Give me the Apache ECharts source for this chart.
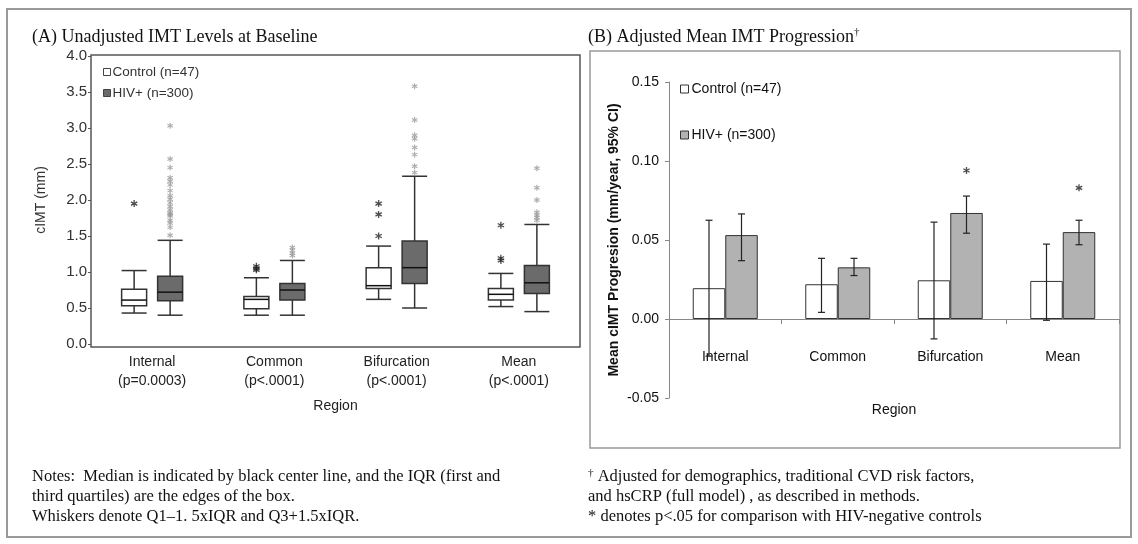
<!DOCTYPE html>
<html>
<head>
<meta charset="utf-8">
<script src="https://cdn.jsdelivr.net/npm/echarts@6/dist/echarts.min.js"></script>
<style>
  html, body { margin: 0; padding: 0; background: #fff; }
  #chart { width: 1138px; height: 544px; }
</style>
</head>
<body>
<div id="chart"></div>
<script>
// panel A: baseline cIMT box plots [min, Q1, median, Q3, max]
const regions = ['Internal', 'Common', 'Bifurcation', 'Mean']
const pValues = ['(p=0.0003)', '(p<.0001)', '(p<.0001)', '(p<.0001)']
const controlBox = [
  [0.43, 0.53, 0.61, 0.76, 1.02],
  [0.40, 0.49, 0.62, 0.66, 0.92],
  [0.62, 0.77, 0.81, 1.06, 1.36],
  [0.52, 0.61, 0.69, 0.77, 0.98]
]
const hivBox = [
  [0.40, 0.60, 0.72, 0.94, 1.44],
  [0.40, 0.61, 0.75, 0.84, 1.16],
  [0.50, 0.84, 1.06, 1.43, 2.33],
  [0.45, 0.70, 0.85, 1.09, 1.66]
]
// outliers as [region index, value]
const controlOutliers = [
  [0, 1.95], [1, 1.08], [1, 1.05], [1, 1.03],
  [2, 1.95], [2, 1.80], [2, 1.50], [3, 1.65], [3, 1.19], [3, 1.16]
]
const hivOutliers = [
  [0, 3.03], [0, 2.57], [0, 2.45], [0, 2.31], [0, 2.26], [0, 2.21], [0, 2.13], [0, 2.06],
  [0, 2.01], [0, 1.96], [0, 1.91], [0, 1.86], [0, 1.82], [0, 1.80], [0, 1.78], [0, 1.72],
  [0, 1.68], [0, 1.62], [0, 1.51],
  [1, 1.34], [1, 1.30], [1, 1.26], [1, 1.23],
  [2, 3.58], [2, 3.11], [2, 2.90], [2, 2.85], [2, 2.73], [2, 2.63], [2, 2.47], [2, 2.38],
  [3, 2.44], [3, 2.17], [3, 2.00], [3, 1.83], [3, 1.79], [3, 1.76], [3, 1.72]
]
const yTicksA = [0, 0.5, 1.0, 1.5, 2.0, 2.5, 3.0, 3.5, 4.0]

// panel B: adjusted mean progression with 95% CI
const controlMean = [0.0195, 0.0220, 0.0245, 0.0241]
const controlLow = [-0.0235, 0.0042, -0.0126, -0.0008]
const controlHigh = [0.0625, 0.0384, 0.0613, 0.0474]
const hivMean = [0.0531, 0.0327, 0.0671, 0.0550]
const hivLow = [0.0369, 0.0275, 0.0543, 0.0470]
const hivHigh = [0.0665, 0.0384, 0.0778, 0.0625]
const sigStars = [null, null, 0.094, 0.083]

const CONTROL = 'Control (n=47)'
const HIV = 'HIV+ (n=300)'
const ASTERISK = 'path://M-0.9,5L0.9,5L0.9,-5L-0.9,-5Z' +
  'M3.88,3.28L4.78,1.72L-3.88,-3.28L-4.78,-1.72Z' +
  'M-4.78,1.72L-3.88,3.28L4.78,-1.72L3.88,-3.28Z'
const SANS = 'Arial, "Liberation Sans", sans-serif'
const SERIF = '"Liberation Serif", "Times New Roman", serif'

function boxRenderer(offset, fill) {
  return function (params, api) {
    const cat = api.value(0)
    const x = api.coord([cat, 0])[0] + offset
    const y = [1, 2, 3, 4, 5].map(d => api.coord([cat, api.value(d)])[1])
    const hw = 12.5
    const line = { stroke: '#333', lineWidth: 1.5 }
    return {
      type: 'group',
      children: [
        { type: 'line', shape: { x1: x, y1: y[0], x2: x, y2: y[1] }, style: line },
        { type: 'line', shape: { x1: x, y1: y[3], x2: x, y2: y[4] }, style: line },
        { type: 'line', shape: { x1: x - hw, y1: y[0], x2: x + hw, y2: y[0] }, style: line },
        { type: 'line', shape: { x1: x - hw, y1: y[4], x2: x + hw, y2: y[4] }, style: line },
        { type: 'rect', shape: { x: x - hw, y: y[3], width: hw * 2, height: y[1] - y[3] }, style: { fill: fill, stroke: '#333', lineWidth: 1.5 } },
        { type: 'line', shape: { x1: x - hw, y1: y[2], x2: x + hw, y2: y[2] }, style: { stroke: '#111', lineWidth: 1.5 } }
      ]
    }
  }
}

function errRenderer(offset) {
  return function (params, api) {
    const cat = api.value(0)
    const x = api.coord([cat, 0])[0] + offset
    const lo = api.coord([cat, api.value(1)])[1]
    const hi = api.coord([cat, api.value(2)])[1]
    const st = { stroke: '#222', lineWidth: 1.2 }
    return {
      type: 'group',
      children: [
        { type: 'line', shape: { x1: x, y1: lo, x2: x, y2: hi }, style: st },
        { type: 'line', shape: { x1: x - 3.5, y1: lo, x2: x + 3.5, y2: lo }, style: st },
        { type: 'line', shape: { x1: x - 3.5, y1: hi, x2: x + 3.5, y2: hi }, style: st }
      ]
    }
  }
}

function text(x, y, str, font, extra) {
  return {
    type: 'text', x: x, y: y, silent: true,
    style: Object.assign({ text: str, font: font, fill: '#111', verticalAlign: 'middle' }, extra || {})
  }
}

const TITLE_FONT = '18px ' + SERIF
const NOTE_FONT = '16.5px ' + SERIF
const SUP_FONT = '11px ' + SERIF

const chart = echarts.init(document.getElementById('chart'))

chart.setOption({
  animation: false,
  textStyle: { fontFamily: SANS },
  grid: [
    { left: 91, top: 56, width: 489, height: 288 },
    { left: 669, top: 82, width: 450, height: 316 }
  ],
  legend: [
    {
      orient: 'vertical', left: 103, top: 65, padding: 0, itemGap: 7,
      itemWidth: 7, itemHeight: 7, selectedMode: false,
      textStyle: { fontSize: 13.5, color: '#333', padding: [0, 0, 0, -3] },
      data: [
        { name: CONTROL, icon: 'rect', itemStyle: { color: '#fff', borderColor: '#444', borderWidth: 1 } },
        { name: HIV, icon: 'rect', itemStyle: { color: '#6b6b6b', borderColor: '#444', borderWidth: 1 } }
      ]
    },
    {
      orient: 'vertical', left: 680, top: 82, padding: 0, itemGap: 32,
      itemWidth: 8, itemHeight: 8, selectedMode: false,
      textStyle: { fontSize: 14, color: '#111', padding: [0, 0, 0, -2] },
      data: [
        { name: CONTROL, icon: 'rect', itemStyle: { color: '#fff', borderColor: '#333', borderWidth: 1 } },
        { name: HIV, icon: 'rect', itemStyle: { color: '#b2b2b2', borderColor: '#333', borderWidth: 1 } }
      ]
    }
  ],
  xAxis: [
    {
      type: 'category', gridIndex: 0,
      data: regions.map((r, i) => r + '\n' + pValues[i]),
      axisLine: { show: false }, axisTick: { show: false },
      axisLabel: { margin: 9, fontSize: 14, lineHeight: 19, color: '#222' },
      name: 'Region', nameLocation: 'middle', nameGap: 55,
      nameTextStyle: { fontSize: 14, color: '#222' }
    },
    {
      type: 'category', gridIndex: 1, data: regions,
      axisLine: { lineStyle: { color: '#888', width: 1 } },
      axisTick: { show: true, length: 5, lineStyle: { color: '#888' } },
      axisLabel: { margin: -48, fontSize: 14, color: '#111' },
      name: 'Region', nameLocation: 'middle', nameGap: 5,
      nameTextStyle: { fontSize: 14, color: '#111' }
    }
  ],
  yAxis: [
    {
      type: 'value', gridIndex: 0, min: yTicksA[0], max: yTicksA[yTicksA.length - 1], interval: 0.5,
      axisLine: { show: false },
      axisTick: { show: true, length: 3, lineStyle: { color: '#555' } },
      splitLine: { show: false },
      axisLabel: { fontSize: 15, color: '#333', margin: 4, formatter: v => v.toFixed(1) },
      name: 'cIMT (mm)', nameLocation: 'middle', nameGap: 43,
      nameTextStyle: { fontSize: 14, color: '#333' }
    },
    {
      type: 'value', gridIndex: 1, min: -0.05, max: 0.15, interval: 0.05,
      axisLine: { show: true, lineStyle: { color: '#888', width: 1 } },
      axisTick: { show: true, length: 4, lineStyle: { color: '#888' } },
      splitLine: { show: false },
      axisLabel: { fontSize: 14, color: '#111', margin: 10, formatter: v => v.toFixed(2) },
      name: 'Mean cIMT Progresion (mm/year, 95% CI)', nameLocation: 'middle', nameGap: 48,
      nameTextStyle: { fontSize: 14, fontWeight: 'bold', color: '#111' }
    }
  ],
  series: [
    {
      name: CONTROL, type: 'custom', xAxisIndex: 0, yAxisIndex: 0,
      renderItem: boxRenderer(-18, '#fff'),
      encode: { x: 0, y: [1, 2, 3, 4, 5] },
      data: controlBox.map((b, i) => [i].concat(b))
    },
    {
      name: HIV, type: 'custom', xAxisIndex: 0, yAxisIndex: 0,
      renderItem: boxRenderer(18, '#6b6b6b'),
      encode: { x: 0, y: [1, 2, 3, 4, 5] },
      data: hivBox.map((b, i) => [i].concat(b))
    },
    {
      name: CONTROL, type: 'scatter', xAxisIndex: 0, yAxisIndex: 0,
      symbol: ASTERISK, symbolSize: 7, symbolOffset: [-18, 0],
      itemStyle: { color: '#222' }, data: controlOutliers
    },
    {
      name: HIV, type: 'scatter', xAxisIndex: 0, yAxisIndex: 0,
      symbol: ASTERISK, symbolSize: 6, symbolOffset: [18, 0],
      itemStyle: { color: '#999' }, data: hivOutliers
    },
    {
      name: CONTROL, type: 'bar', xAxisIndex: 1, yAxisIndex: 1,
      barWidth: 32.5, barGap: '0%',
      itemStyle: { color: '#fff', borderColor: '#333', borderWidth: 1 },
      data: controlMean
    },
    {
      name: HIV, type: 'bar', xAxisIndex: 1, yAxisIndex: 1,
      barWidth: 32.5, barGap: '0%',
      itemStyle: { color: '#b2b2b2', borderColor: '#333', borderWidth: 1 },
      data: hivMean
    },
    {
      name: CONTROL, type: 'custom', xAxisIndex: 1, yAxisIndex: 1, z: 5,
      renderItem: errRenderer(-16.25),
      encode: { x: 0, y: [1, 2] },
      data: controlLow.map((v, i) => [i, v, controlHigh[i]])
    },
    {
      name: HIV, type: 'custom', xAxisIndex: 1, yAxisIndex: 1, z: 5,
      renderItem: errRenderer(16.25),
      encode: { x: 0, y: [1, 2] },
      data: hivLow.map((v, i) => [i, v, hivHigh[i]])
    },
    {
      name: HIV, type: 'scatter', xAxisIndex: 1, yAxisIndex: 1,
      symbol: ASTERISK, symbolSize: 7, symbolOffset: [16.25, 0],
      itemStyle: { color: '#222' },
      data: sigStars.map((v, i) => v == null ? null : [i, v]).filter(d => d)
    }
  ],
  graphic: [
    { type: 'rect', silent: true, shape: { x: 7, y: 9, width: 1124, height: 528 }, style: { fill: 'none', stroke: '#9a9a9a', lineWidth: 2 } },
    { type: 'rect', silent: true, shape: { x: 91, y: 55, width: 489, height: 292 }, style: { fill: 'none', stroke: '#555', lineWidth: 1.5 } },
    { type: 'rect', silent: true, shape: { x: 590, y: 51, width: 530, height: 397 }, style: { fill: 'none', stroke: '#999', lineWidth: 1.5 } },
    text(32, 37, '(A) Unadjusted IMT Levels at Baseline', TITLE_FONT),
    text(588, 37, '{t|(B) Adjusted Mean IMT Progression}{s|†}', TITLE_FONT, {
      rich: {
        t: { font: TITLE_FONT, fill: '#111' },
        s: { font: SUP_FONT, fill: '#111', padding: [0, 0, 9, 0] }
      }
    }),
    text(32, 477, 'Notes:  Median is indicated by black center line, and the IQR (first and', NOTE_FONT),
    text(32, 497, 'third quartiles) are the edges of the box.', NOTE_FONT),
    text(32, 517, 'Whiskers denote Q1\u20131. 5xIQR and Q3+1.5xIQR.', NOTE_FONT),
    text(588, 477, '{s|†}{n| Adjusted for demographics, traditional CVD risk factors,}', NOTE_FONT, {
      rich: {
        n: { font: NOTE_FONT, fill: '#111' },
        s: { font: SUP_FONT, fill: '#111', padding: [0, 0, 8, 0] }
      }
    }),
    text(588, 497, 'and hsCRP (full model) , as described in methods.', NOTE_FONT),
    text(588, 517, '* denotes p<.05 for comparison with HIV-negative controls', NOTE_FONT)
  ]
})
</script>
</body>
</html>
